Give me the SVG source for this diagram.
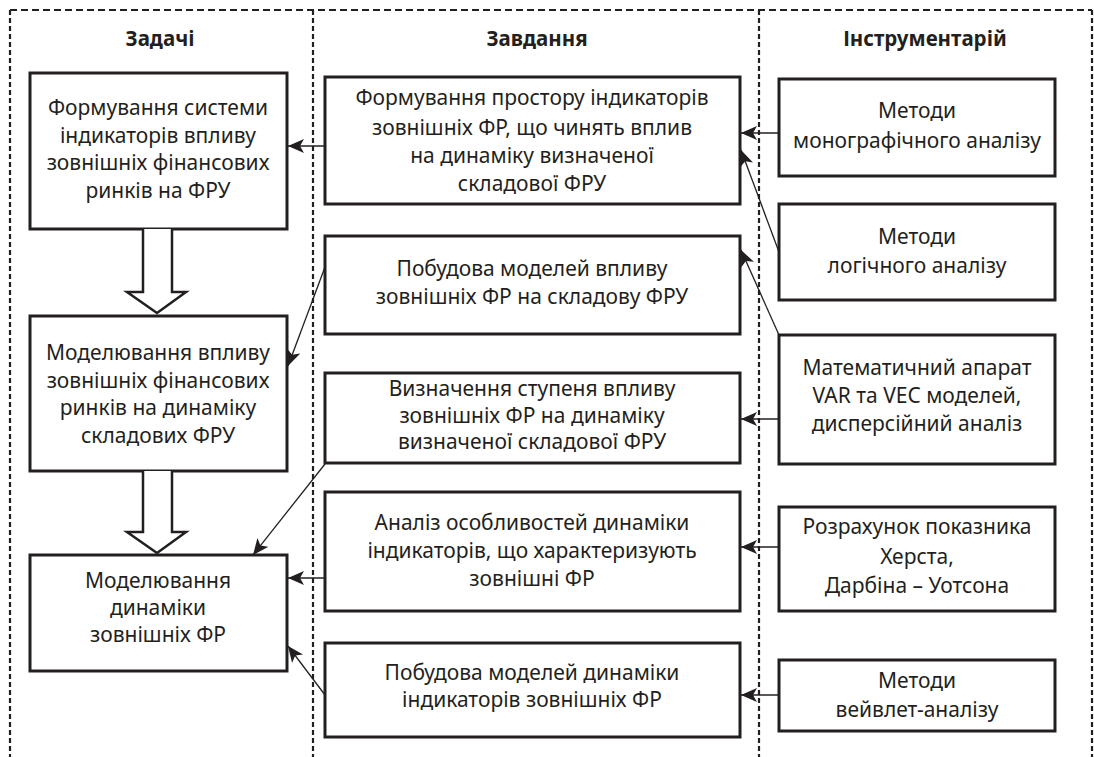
<svg xmlns="http://www.w3.org/2000/svg" width="1094" height="757" viewBox="0 0 1094 757">
<defs>
<style>
.dash{fill:none;stroke:#231f20;stroke-width:2.2}
.dh{stroke-dasharray:7 4}
.dv{stroke-dasharray:5 3}
.box rect{fill:#fff;stroke:#231f20;stroke-width:3}
.box text,.hd{font-family:"Noto Sans","Open Sans",sans-serif;font-size:21px;fill:#231f20;text-anchor:middle;dominant-baseline:central}
.hd{font-weight:bold;font-size:20.5px}
.con line{stroke:#231f20;stroke-width:1.3;marker-end:url(#ah)}
.hollow{fill:#fff;stroke:#231f20;stroke-width:2.5}
</style>
<marker id="ah" markerUnits="userSpaceOnUse" markerWidth="18" markerHeight="14" refX="16" refY="7" orient="auto">
<path d="M0,0 L16,7 L0,14 L4,7 z" fill="#231f20"/>
</marker>
</defs>
<rect width="1094" height="757" fill="#fff"/>
<g id="frame">
<path class="dash dh" d="M10,10 H1092"/>
<path class="dash dv" d="M10,10 V757 M313,10 V757 M759,10 V757 M1092,10 V757"/>
</g>
<text class="hd" x="160" y="38">Задачі</text>
<text class="hd" x="537" y="38">Завдання</text>
<text class="hd" x="925" y="38">Інструментарій</text>

<g id="L1" class="box"><rect x="30" y="73" width="257" height="156"/>
<text x="158" y="107">Формування системи</text><text x="158" y="135">індикаторів впливу</text><text x="158" y="162">зовнішніх фінансових</text><text x="158" y="190">ринків на ФРУ</text></g>
<g id="L2" class="box"><rect x="30" y="316" width="257" height="155"/>
<text x="158" y="352">Моделювання впливу</text><text x="158" y="380">зовнішніх фінансових</text><text x="158" y="407">ринків на динаміку</text><text x="158" y="435">складових ФРУ</text></g>
<g id="L3" class="box"><rect x="30" y="555" width="257" height="116"/>
<text x="158" y="580">Моделювання</text><text x="158" y="607">динаміки</text><text x="158" y="634">зовнішніх ФР</text></g>

<g id="M1" class="box"><rect x="325" y="77" width="415" height="127"/>
<text x="532" y="97">Формування простору індикаторів</text><text x="532" y="127">зовнішніх ФР, що чинять вплив</text><text x="532" y="155">на динаміку визначеної</text><text x="532" y="183">складової ФРУ</text></g>
<g id="M2" class="box"><rect x="325" y="236" width="415" height="98"/>
<text x="532" y="268">Побудова моделей впливу</text><text x="532" y="296">зовнішніх ФР на складову ФРУ</text></g>
<g id="M3" class="box"><rect x="325" y="373" width="415" height="90"/>
<text x="532" y="388">Визначення ступеня впливу</text><text x="532" y="415">зовнішніх ФР на динаміку</text><text x="532" y="441">визначеної складової ФРУ</text></g>
<g id="M4" class="box"><rect x="325" y="492" width="415" height="119"/>
<text x="532" y="522">Аналіз особливостей динаміки</text><text x="532" y="550">індикаторів, що характеризують</text><text x="532" y="578">зовнішні ФР</text></g>
<g id="M5" class="box"><rect x="325" y="643" width="415" height="94"/>
<text x="532" y="672">Побудова моделей динаміки</text><text x="532" y="699">індикаторів зовнішніх ФР</text></g>

<g id="R1" class="box"><rect x="779" y="79" width="276" height="97"/>
<text x="917" y="110">Методи</text><text x="917" y="140">монографічного аналізу</text></g>
<g id="R2" class="box"><rect x="779" y="204" width="276" height="96"/>
<text x="917" y="236">Методи</text><text x="917" y="265">логічного аналізу</text></g>
<g id="R3" class="box"><rect x="779" y="335" width="276" height="129"/>
<text x="917" y="367">Математичний апарат</text><text x="917" y="395">VAR та VEC моделей,</text><text x="917" y="423">дисперсійний аналіз</text></g>
<g id="R4" class="box"><rect x="779" y="507" width="276" height="104"/>
<text x="917" y="526">Розрахунок показника</text><text x="917" y="556">Херста,</text><text x="917" y="585">Дарбіна – Уотсона</text></g>
<g id="R5" class="box"><rect x="779" y="660" width="276" height="71"/>
<text x="917" y="680">Методи</text><text x="917" y="709">вейвлет-аналізу</text></g>

<g id="hollow-arrows">
<path class="hollow" d="M143,229 V292 H127 L157,313 L186,292 H172 V229"/>
<path class="hollow" d="M143,471 V532 H127 L157,553 L186,532 H172 V471"/>
</g>
<g id="connectors" class="con">
<line x1="325" y1="146" x2="288" y2="146"/>
<line x1="779" y1="133" x2="741" y2="133"/>
<line x1="779" y1="252" x2="741" y2="150"/>
<line x1="779" y1="335" x2="741" y2="250"/>
<line x1="779" y1="419" x2="741" y2="419"/>
<line x1="325" y1="267" x2="288" y2="366"/>
<line x1="325" y1="464" x2="253" y2="555"/>
<line x1="325" y1="578" x2="288" y2="578"/>
<line x1="325" y1="695" x2="288" y2="646"/>
<line x1="779" y1="547" x2="741" y2="547"/>
<line x1="779" y1="695" x2="741" y2="695"/>
</g>
</svg>
